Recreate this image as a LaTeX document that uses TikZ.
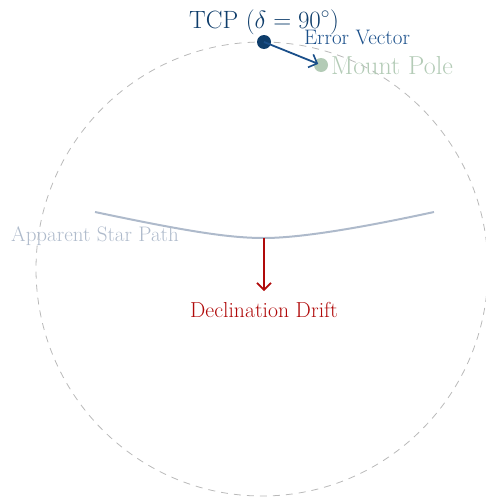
\documentclass[tikz,border=0pt]{standalone}
\usetikzlibrary{arrows.meta}
\definecolor{tcpblue}{HTML}{0E3D6B}
\definecolor{errblue}{HTML}{1A4F8A}
\definecolor{polegreen}{HTML}{B3CBB6}
\definecolor{pathgray}{HTML}{AEBACB}
\definecolor{driftred}{HTML}{B00A0A}
\tikzset{
  dot/.style={circle, inner sep=0pt, minimum size=14pt},
  lbl/.style={inner sep=0pt, anchor=base},
  barb/.style={-{Straight Barb[length=7pt,width=14pt,line width=1.6pt]}}
}
\begin{document}
\begin{tikzpicture}[x=1pt,y=-1pt]
\useasboundingbox (0,0) rectangle (485,498);
% dashed circle
\draw[gray!55, dash pattern=on 7pt off 6pt, line width=0.8pt] (262,269) ellipse [x radius=226, y radius=227];
% star path
\coordinate (sl) at (95,212);
\coordinate (sm) at (264,238);
\coordinate (sr) at (434,212);
\draw[pathgray, line width=2pt] (sl) .. controls (190,232) and (230,238) .. (sm) .. controls (300,238) and (360,228) .. (sr);
\node[lbl, text=pathgray, font=\fontsize{21}{24}\selectfont] (asp) at (95,241) {Apparent Star Path};
% drift
\coordinate (de) at (264,291);
\draw[driftred, line width=1.6pt, barb] (sm) -- (de);
\node[lbl, text=driftred, font=\fontsize{21.7}{24}\selectfont] (dd) at (264,317) {Declination Drift};
% tcp and pole
\node[dot, fill=tcpblue] (tcp) at (264,42) {};
\node[dot, fill=polegreen] (pole) at (321,65) {};
\draw[errblue, line width=1.8pt, barb, shorten >=3pt] (tcp.center) -- (pole.center);
\node[lbl, text=tcpblue, font=\fontsize{25}{28}\selectfont] (tcpl) at (264,28) {TCP ($\delta = 90^{\circ}$)};
\node[lbl, text=errblue, font=\fontsize{21}{24}\selectfont] (ev) at (357,44) {Error Vector};
\node[lbl, anchor=base west, text=polegreen, font=\fontsize{26}{28}\selectfont] (mp) at (331,74) {Mount Pole};
\end{tikzpicture}
\end{document}
